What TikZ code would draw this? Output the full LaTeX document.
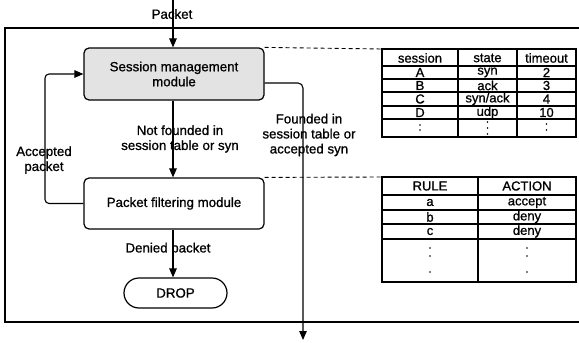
\documentclass[tikz,border=0pt]{standalone}
\usepackage{fontspec}
\setmainfont{Liberation Sans}
\newfontfamily\scanfont[FakeBold=0.9]{Liberation Sans}
\usetikzlibrary{arrows.meta}
\begin{document}
\begin{tikzpicture}[x=1pt,y=-1pt,
  font=\scanfont\fontsize{13.3}{15}\selectfont,
  box/.style={draw, line width=1.2pt, rounded corners=5pt, align=center, inner sep=0pt},
  conn/.style={line width=1.1pt, -{Triangle[length=9pt,width=7.5pt]}},
  lbl/.style={inner sep=0pt, align=center},
  tline/.style={line width=1.2pt},
  dashline/.style={line width=0.9pt, dash pattern=on 4pt off 3pt},
  cell/.style={inner sep=0pt, font=\scanfont\fontsize{13}{15}\selectfont},
  dotc/.style={fill, circle, inner sep=0pt, minimum size=1.9pt}]
\useasboundingbox (0,0) rectangle (579,343);
% frame
\draw[line width=1.2pt] (579,28) -- (5,28) -- (5,322) -- (579,322);
% modules
\node[box, fill=gray!22, minimum width=180pt, minimum height=52pt] (sm) at (174,74) {Session management\\module};
\node[box, minimum width=180pt, minimum height=51pt] (pf) at (174,203.5) {Packet filtering module};
\node[box, rounded corners=15pt, minimum width=103pt, minimum height=30pt] (drop) at (175.5,293) {DROP};
% connectors
\coordinate (pin) at (173,0);
\coordinate (fb) at (45,0);
\coordinate (outR) at (303,340);
\draw[conn] (pin) -- (pin |- sm.north);
\draw[conn] (pin |- sm.south) -- (pin |- pf.north);
\draw[conn] (pin |- pf.south) -- (pin |- drop.north);
\draw[conn, rounded corners=4pt] (pf.west) -- (fb |- pf.west) -- (fb |- sm.west) -- (sm.west);
\draw[conn, rounded corners=5pt] ([yshift=-9pt]sm.east) -| (outR);
% labels
\node[lbl] (lpk) at (172,14) {Packet};
\node[lbl] (lnf) at (180,139) {Not founded in\\session table or syn};
\node[lbl] (lac) at (44,160) {Accepted\\packet};
\node[lbl] (lfd) at (309,135) {Founded in\\session table or\\accepted syn};
\node[lbl] (ldn) at (168,249) {Denied packet};
% session table
\coordinate (st) at (382,49);
\draw[tline] (382,49) rectangle (576,137);
\foreach \y in {66,79,92,106,119} \draw[tline] (382,\y) -- (576,\y);
\draw[tline] (458,49) -- (458,137);
\draw[tline] (517,49) -- (517,137);
\node[cell] (h1) at (420,58) {session};
\node[cell] (h2) at (487.5,58) {state};
\node[cell] (h3) at (546.5,58) {timeout};
\node[cell] (a1) at (420,72.5) {A};
\node[cell] (a2) at (487.5,72.5) {syn};
\node[cell] (a3) at (546.5,72.5) {2};
\node[cell] (b1) at (420,85.5) {B};
\node[cell] (b2) at (487.5,85.5) {ack};
\node[cell] (b3) at (546.5,85.5) {3};
\node[cell] (c1) at (420,99) {C};
\node[cell] (c2) at (487.5,99) {syn/ack};
\node[cell] (c3) at (546.5,99) {4};
\node[cell] (d1) at (420,112.5) {D};
\node[cell] (d2) at (487.5,112.5) {udp};
\node[cell] (d3) at (546.5,112.5) {10};
\foreach \x/\ys in {420/{125,130}, 487.5/{122,128,134}, 546.5/{124,130}}
  \foreach \y in \ys \node[dotc] at (\x,\y) {};
% rule table
\coordinate (rt) at (382,177);
\draw[tline] (382,177) rectangle (576,282);
\foreach \y in {195,210,224,239} \draw[tline] (382,\y) -- (576,\y);
\draw[tline] (478,177) -- (478,282);
\node[cell] (r0) at (430,186) {RULE};
\node[cell] (q0) at (527,186) {ACTION};
\node[cell] (r1) at (430,202.5) {a};
\node[cell] (q1) at (527,202.5) {accept};
\node[cell] (r2) at (430,217) {b};
\node[cell] (q2) at (527,217) {deny};
\node[cell] (r3) at (430,231.5) {c};
\node[cell] (q3) at (527,231.5) {deny};
\foreach \x in {430,527}
  \foreach \y in {248,256,272} \node[dotc] at (\x,\y) {};
% dashed guides
\draw[dashline] (sm.north east) -- (st);
\draw[dashline] (pf.north east) -- (rt);
\end{tikzpicture}
\end{document}
